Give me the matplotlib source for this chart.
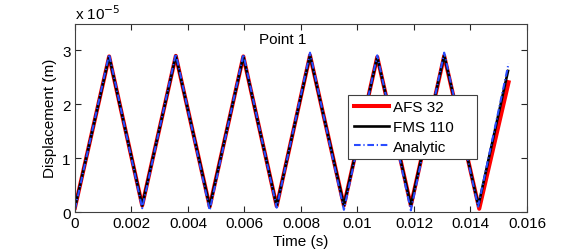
import matplotlib
matplotlib.use("Agg")
import matplotlib.pyplot as plt

plt.rcParams['font.family'] = ['Liberation Sans', 'DejaVu Sans']

# Displacement values in units of 1e-5 m
time_analytic = [0.0, 0.00121, 0.00238, 0.00357, 0.00477, 0.00596, 0.00714,
                 0.00832, 0.00952, 0.01070, 0.01189, 0.01307, 0.01427, 0.01535]
disp_analytic = [0.05, 2.93, 0.07, 2.94, 0.03, 2.93, 0.08,
                 2.96, 0.04, 2.91, 0.03, 2.96, 0.10, 2.76]

time_fms = [0.0, 0.00121, 0.00238, 0.00357, 0.00477, 0.00596, 0.00714,
            0.00832, 0.00952, 0.01070, 0.01189, 0.01307, 0.01428, 0.01533]
disp_fms = [0.08, 2.89, 0.12, 2.90, 0.10, 2.89, 0.11,
            2.91, 0.12, 2.88, 0.12, 2.91, 0.12, 2.62]

time_afs = [0.0, 0.00121, 0.00238, 0.00357, 0.00477, 0.00596, 0.00714,
            0.00832, 0.00952, 0.01070, 0.01189, 0.01307, 0.01431, 0.01535]
disp_afs = [0.08, 2.89, 0.12, 2.90, 0.10, 2.89, 0.11,
            2.91, 0.12, 2.88, 0.12, 2.90, 0.06, 2.41]

xticks = [0, 0.002, 0.004, 0.006, 0.008, 0.01, 0.012, 0.014, 0.016]
xticklabels = ['0', '0.002', '0.004', '0.006', '0.008', '0.01', '0.012', '0.014', '0.016']
yticks = [0, 1, 2, 3]

fig = plt.figure(figsize=(5.81, 2.53), dpi=100)
ax = fig.add_axes([0.129, 0.158, 0.778, 0.745])

ax.plot(time_afs, disp_afs, color='#ff0000', lw=2.9, label='AFS 32')
ax.plot(time_fms, disp_fms, color='black', lw=1.9, label='FMS 110')
ax.plot(time_analytic, disp_analytic, color='#2a4cff', lw=1.5,
        ls=(0, (3.2, 1.3, 0.6, 1.3)), label='Analytic')

ax.set_xlim(0, 0.016)
ax.set_ylim(0, 3.5)
ax.set_xticks(xticks)
ax.set_xticklabels(xticklabels)
ax.set_yticks(yticks)
ax.tick_params(direction='in', top=True, right=True, length=4, labelsize=11,
               colors='#262626', labelcolor='black', pad=3)
for sp in ax.spines.values():
    sp.set_color('#404040')
    sp.set_linewidth(0.8)

ax.set_xlabel('Time (s)', fontsize=11, labelpad=3)
ax.set_ylabel('Displacement (m)', fontsize=11, labelpad=4)
ax.text(0.00736, 3.22, 'Point 1', fontsize=11, ha='center', va='center')
ax.text(0.0, 1.01, r'x 10$^{-5}$', transform=ax.transAxes, fontsize=11, ha='left', va='bottom')

leg = ax.legend(loc='lower left', bbox_to_anchor=(0.605, 0.281, 0.284, 0.35), mode='expand',
                fontsize=11, frameon=True, fancybox=False, handlelength=2.3,
                handletextpad=0.25, borderpad=0.35, labelspacing=0.38, borderaxespad=0)
leg.get_frame().set_edgecolor('#404040')
leg.get_frame().set_linewidth(0.8)
leg.get_frame().set_alpha(1)

fig.savefig('out.png', dpi=100)
